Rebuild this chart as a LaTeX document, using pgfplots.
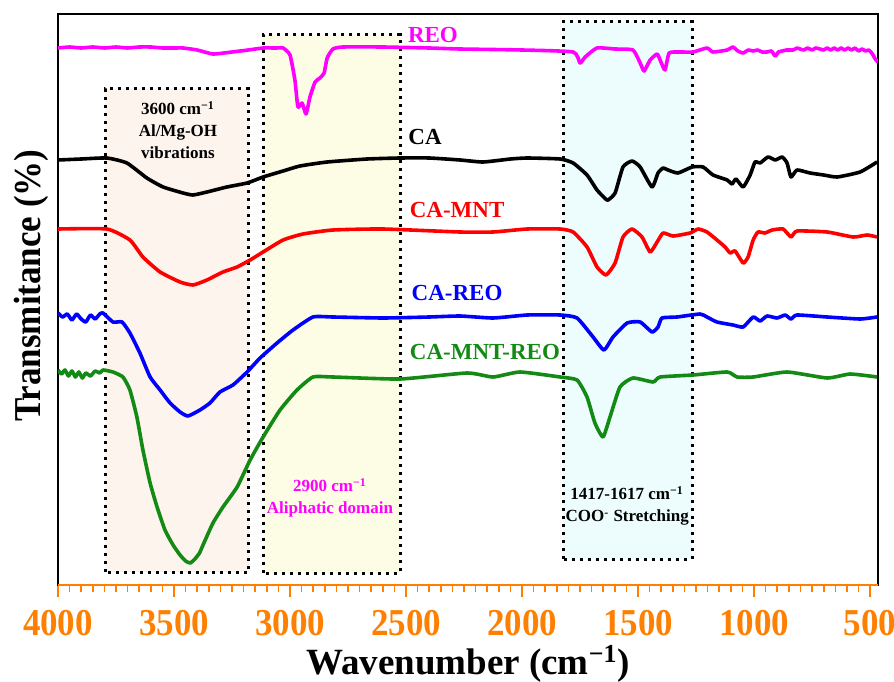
\documentclass[border=0pt]{standalone}
\usepackage{pgfplots}
\pgfplotsset{compat=1.18}
\usepackage{fontspec}
\setmainfont{Liberation Serif}
\newfontfamily\tickfont{Liberation Serif}[FakeStretch=0.92]
\definecolor{tickorange}{HTML}{FF8000}
\definecolor{reo}{HTML}{FF00FF}
\definecolor{cagreen}{HTML}{138A13}
\definecolor{boxpeach}{HTML}{FDF4EE}
\definecolor{boxyellow}{HTML}{FDFDE6}
\definecolor{boxcyan}{HTML}{EDFCFC}

\begin{document}
\begin{tikzpicture}
\path[use as bounding box] (-29pt,-48pt) rectangle (418pt,292.5pt);
\begin{axis}[
    name=ax,
    scale only axis,
    width=410pt, height=285.5pt,
    x dir=reverse,
    xmin=466, xmax=4000, ymin=0, ymax=571,
    xtick={500,1000,...,4000}, minor x tick num=9,
    ytick=\empty,
    xtick pos=bottom, tick align=outside,
    major tick length=6pt, minor tick length=3.5pt,
    xtick style={tickorange, line width=0.8pt},
    minor x tick style={tickorange, line width=0.8pt},
    scaled x ticks=false,
    /pgf/number format/1000 sep={},
    /pgf/number format/assume math mode=true,
    xticklabel style={font=\tickfont\fontsize{19}{20}\bfseries, text=tickorange, yshift=-3pt},
    axis line style={line width=1pt},
    xlabel={Wavenumber (cm\textsuperscript{−1})},
    xlabel style={font=\fontsize{18.5}{20}\bfseries, at={(axis description cs:0.5,0)}, anchor=center, yshift=-39.5pt},
    ylabel={Transmitance (\%)},
    ylabel style={font=\tickfont\fontsize{19}{20}\bfseries, at={(axis description cs:-0.033,0.524)}, anchor=center},
    every axis plot/.append style={line width=1.8pt, mark=none, smooth, tension=0.3, line join=round},
    clip=true
]
% highlighted regions
\draw[black, line width=1.5pt, dash pattern=on 1.5pt off 2.5pt, fill=boxpeach] (axis cs:3797,13) rectangle (axis cs:3177,496);
\draw[black, line width=1.5pt, dash pattern=on 1.5pt off 2.5pt, fill=boxyellow] (axis cs:3116,12) rectangle (axis cs:2526,550);
\draw[black, line width=1.5pt, dash pattern=on 1.5pt off 2.5pt, fill=boxcyan] (axis cs:1823,26) rectangle (axis cs:1267,563);

% REO
\addplot[reo] coordinates {
(4000,537)(3950,538)(3900,537)(3850,538)(3800,537)(3750,538)(3700,537)(3650,538)(3600,538)(3550,537)
(3500,537)(3461,537)(3400,535)(3332,531)(3250,533)(3180,535)(3116,537)(3060,537)(3030,537)(3000,530)
(2979,505)(2966,478)(2948,482)(2931,471)(2914,488)(2892,503)(2871,507)(2853,512)(2840,527)(2815,536)
(2772,538)(2600,538)(2400,537)(2267,536)(2000,535)(1780,533)(1750,522)(1728,528)(1677,537)(1600,536)
(1522,535)(1491,522)(1474,514)(1448,525)(1418,531)(1405,525)(1384,515)(1366,532)(1319,533)(1263,533)
(1203,537)(1177,533)(1116,535)(1091,538)(1070,534)(1047,532)(1025,535)(1004,534)(985,535)(965,533)
(944,533)(925,534)(909,529)(895,533)(879,534)(860,535)(832,535)(815,537)(802,536)(785,535)
(770,537)(750,535)(735,537)(716,536)(700,535)(685,537)(670,535)(655,537)(640,535)(625,537)
(610,535)(595,537)(580,535)(565,537)(550,534)(535,536)(520,534)(505,535)(490,531)(478,526)(466,523)
};
% CA
\addplot[black] coordinates {
(4000,425)(3900,426)(3789,427)(3703,422)(3617,407)(3547,398)(3461,392)(3418,390)(3358,393)(3272,398)
(3185,402)(3116,408)(3030,414)(2957,419)(2840,423)(2668,426)(2526,427)(2400,427)(2267,425)(2168,423)
(2050,426)(1978,427)(1836,426)(1780,422)(1720,410)(1677,395)(1640,386)(1629,385)(1599,392)(1565,418)
(1526,424)(1491,418)(1440,398)(1414,412)(1392,417)(1371,415)(1328,412)(1267,418)(1220,418)(1177,410)
(1116,405)(1095,401)(1078,406)(1047,398)(1017,410)(996,423)(974,422)(940,428)(909,425)(879,428)
(858,422)(841,408)(815,415)(759,412)(700,410)(642,408)(543,413)(470,423)
};
% CA-MNT
\addplot[red] coordinates {
(4000,356)(3789,356)(3690,345)(3634,328)(3560,313)(3474,303)(3418,300)(3358,305)(3289,313)(3228,318)
(3172,325)(3116,333)(3030,345)(2944,351)(2815,355)(2600,356)(2267,353)(2125,353)(1978,356)(1836,356)
(1780,353)(1720,338)(1677,318)(1638,310)(1599,322)(1565,348)(1526,356)(1483,348)(1448,333)(1418,343)
(1392,352)(1349,349)(1276,352)(1241,356)(1203,353)(1160,345)(1125,338)(1103,332)(1082,334)(1047,322)
(1026,328)(1004,345)(983,353)(953,352)(922,355)(875,356)(841,348)(815,354)(685,353)(573,348)
(513,350)(470,348)
};
% CA-REO
\addplot[blue] coordinates {
(4000,272)(3980,268)(3960,271)(3940,265)(3920,271)(3900,266)(3880,263)(3860,270)(3840,266)(3820,271)
(3806,272)(3763,263)(3724,263)(3690,252)(3647,232)(3603,208)(3560,195)(3517,182)(3474,173)(3440,169)
(3388,175)(3345,182)(3302,193)(3246,200)(3185,213)(3129,227)(3056,242)(2987,255)(2901,268)(2815,268)
(2599,267)(2400,268)(2267,269)(2125,267)(1978,270)(1836,270)(1763,267)(1694,248)(1647,235)(1608,248)
(1547,262)(1491,263)(1440,253)(1414,258)(1397,267)(1332,268)(1233,271)(1203,268)(1160,263)(1091,260)
(1047,258)(1004,268)(974,264)(944,269)(901,267)(866,270)(841,266)(815,270)(685,268)(543,266)(470,268)
};
% CA-MNT-REO
\addplot[cagreen] coordinates {
(4000,215)(3985,211)(3970,215)(3955,209)(3940,214)(3925,208)(3910,213)(3895,207)(3880,212)(3860,209)
(3840,214)(3820,212)(3806,215)(3763,213)(3720,208)(3690,195)(3660,168)(3634,135)(3603,102)(3573,78)
(3539,55)(3504,40)(3474,30)(3450,24)(3430,22)(3410,26)(3390,32)(3375,40)(3332,62)(3289,78)
(3228,98)(3172,125)(3116,148)(3043,175)(2970,195)(2901,208)(2815,208)(2526,206)(2237,212)(2125,208)
(2009,213)(1836,208)(1763,205)(1720,188)(1686,162)(1651,148)(1621,168)(1578,198)(1522,207)(1435,203)
(1405,208)(1263,210)(1116,213)(1073,208)(1004,208)(858,213)(685,207)(586,211)(470,208)
};

% series names
\node[font=\fontsize{11.5}{13}\bfseries, text=reo] at (axis cs:2384,550) {REO};
\node[font=\fontsize{11.5}{13}\bfseries, text=black] at (axis cs:2418,448) {CA};
\node[font=\fontsize{11.5}{13}\bfseries, text=red] at (axis cs:2280,375) {CA-MNT};
\node[font=\fontsize{11.5}{13}\bfseries, text=blue] at (axis cs:2280,292) {CA-REO};
\node[font=\fontsize{11.5}{13}\bfseries, text=cagreen] at (axis cs:2160,233) {CA-MNT-REO};

% region notes
\node[font=\fontsize{8.5}{11}\bfseries, align=center] at (axis cs:3483,455) {3600 cm\textsuperscript{−1}\\Al/Mg-OH\\vibrations};
\node[font=\fontsize{8.5}{11}\bfseries, align=center, text=reo] at (axis cs:2828,87) {2900 cm\textsuperscript{−1}\\Aliphatic domain};
\node[font=\fontsize{8.5}{11}\bfseries, align=center] at (axis cs:1547,79) {1417-1617 cm\textsuperscript{−1}\\COO\textsuperscript{-} Stretching};
\end{axis}
\draw[tickorange, line width=1pt] (ax.south west) -- (ax.south east);
\end{tikzpicture}
\end{document}
